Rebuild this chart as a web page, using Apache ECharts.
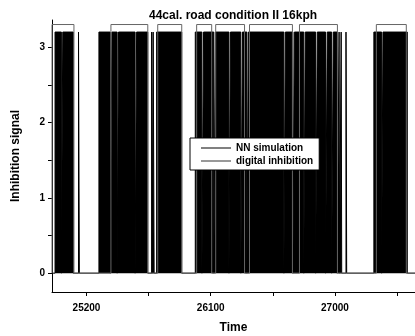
<!DOCTYPE html>
<html>
<head>
<meta charset="utf-8">
<script src="https://cdn.jsdelivr.net/npm/echarts@6.0.0/dist/echarts.min.js"></script>
<style>
  html, body { margin: 0; padding: 0; background: #fff; }
  #chart { width: 415px; height: 336px; }
</style>
</head>
<body>
<div id="chart"></div>
<script>
// time window of the plot
const xMin = 24950;
const xMax = 27580;

// NN simulation: pulses that go high (start, end) in time units
const nnLevel = 3.2;
const nnPulses = [
  [24972, 25018], [25028, 25104],
  [25142, 25148],
  [25290, 25372], [25384, 25422], [25432, 25552], [25563, 25644],
  [25672, 25676], [25683, 25690],
  [25708, 25890],
  [25988, 26036], [26048, 26122], [26134, 26232], [26243, 26318], [26330, 26362],
  [26373, 26630], [26641, 26695], [26706, 26774], [26785, 26860], [26872, 26932],
  [26944, 26976], [26988, 27016],
  [27030, 27034], [27045, 27049], [27080, 27085],
  [27282, 27338], [27348, 27524]
];

// digital inhibition: windows where it is on
const digitalLevel = 3.3;
const digitalWindows = [
  [24950, 25109], [25377, 25644], [25716, 25890], [25998, 26107],
  [26136, 26345], [26381, 26692], [26743, 27018], [27300, 27517]
];

const xLabels = [25200, 26100, 27000];
const xTicks = [25200, 25650, 26100, 26550, 27000, 27450];
const yLabels = [0, 1, 2, 3];
const yTicks = [0, 0.5, 1, 1.5, 2, 2.5, 3];

// turn on/off intervals into a step polyline
function toSteps(intervals, level) {
  const pts = [[xMin, 0]];
  intervals.forEach(function (iv) {
    pts.push([iv[0], 0], [iv[0], level], [iv[1], level], [iv[1], 0]);
  });
  pts.push([xMax, 0]);
  return pts;
}

const font = 'Liberation Sans, Arial, sans-serif';
const myChart = echarts.init(document.getElementById('chart'));

const option = {
  animation: false,
  backgroundColor: '#fff',
  title: {
    text: '44cal. road condition II 16kph',
    left: 144,
    top: 5,
    textStyle: { fontFamily: font, fontSize: 12, fontWeight: 'bold', color: '#000' }
  },
  legend: {
    orient: 'vertical',
    left: 190,
    top: 138,
    padding: [5, 6, 4, 11],
    itemGap: 3,
    itemWidth: 30,
    itemHeight: 1,
    backgroundColor: '#fff',
    borderColor: '#000',
    borderWidth: 1,
    textStyle: { fontFamily: font, fontSize: 10, fontWeight: 'bold', color: '#000' },
    data: [
      { name: 'NN simulation', icon: 'rect', itemStyle: { color: '#000' } },
      { name: 'digital inhibition', icon: 'rect', itemStyle: { color: '#333' } }
    ]
  },
  grid: {
    left: 52,
    right: 0,
    top: 20,
    bottom: 44,
    containLabel: false,
    outerBoundsMode: 'none'
  },
  xAxis: {
    type: 'value',
    min: xMin,
    max: xMax,
    name: 'Time',
    nameLocation: 'middle',
    nameGap: 30,
    nameTextStyle: { fontFamily: font, fontSize: 12, fontWeight: 'bold', color: '#000' },
    axisLine: { onZero: false, lineStyle: { color: '#000', width: 1 } },
    axisTick: { customValues: xTicks, length: 4, lineStyle: { color: '#000' } },
    axisLabel: {
      customValues: xLabels,
      margin: 11,
      formatter: function (v) { return String(v); },
      fontFamily: font,
      fontSize: 10,
      fontWeight: 'bold',
      color: '#000'
    },
    splitLine: { show: false }
  },
  yAxis: {
    type: 'value',
    min: -0.25,
    max: 3.36,
    name: 'Inhibition signal',
    nameLocation: 'middle',
    nameGap: 30,
    nameTextStyle: { fontFamily: font, fontSize: 12, fontWeight: 'bold', color: '#000' },
    axisLine: { show: true, lineStyle: { color: '#000', width: 1 } },
    axisTick: { customValues: yTicks, length: 4, lineStyle: { color: '#000' } },
    axisLabel: {
      customValues: yLabels,
      margin: 7,
      fontFamily: font,
      fontSize: 10,
      fontWeight: 'bold',
      color: '#000'
    },
    splitLine: { show: false }
  },
  series: [
    {
      name: 'NN simulation',
      type: 'line',
      data: toSteps(nnPulses, nnLevel),
      symbol: 'none',
      lineStyle: { color: '#000', width: 1 },
      itemStyle: { color: '#000' },
      areaStyle: { color: '#000', opacity: 1, origin: 0 },
      z: 2
    },
    {
      name: 'digital inhibition',
      type: 'line',
      data: toSteps(digitalWindows, digitalLevel),
      symbol: 'none',
      lineStyle: { color: '#666', width: 1 },
      itemStyle: { color: '#333' },
      z: 3
    }
  ]
};

myChart.setOption(option);
</script>
</body>
</html>
